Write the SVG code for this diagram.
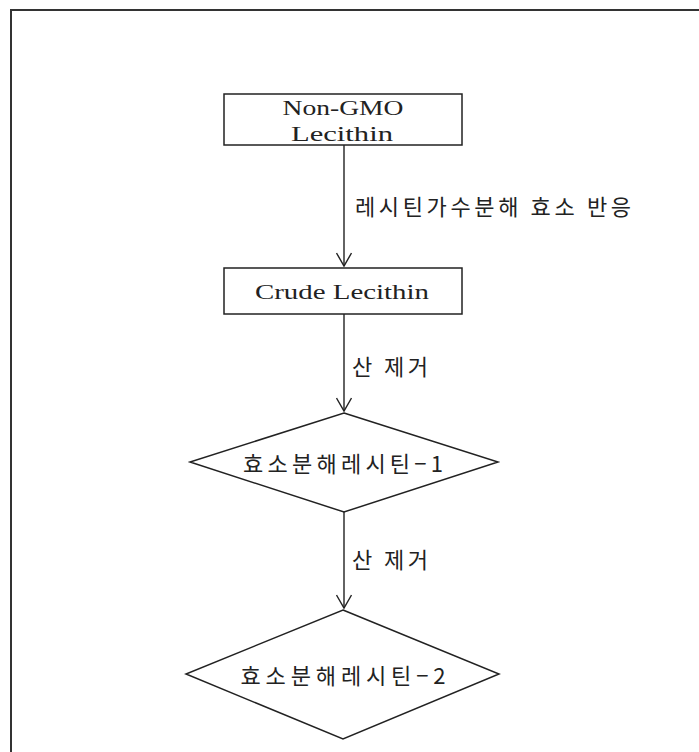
<svg xmlns="http://www.w3.org/2000/svg" width="699" height="752" viewBox="0 0 699 752">
  <defs>
    <marker id="arr" viewBox="0 0 16 16" refX="14" refY="8" markerWidth="16" markerHeight="16" markerUnits="userSpaceOnUse" orient="auto">
      <path d="M1,0.5 L14,8 L1,15.5" fill="none" stroke="#222" stroke-width="1.4"/>
    </marker>
    <style>
      .frame { fill: none; stroke: #333; stroke-width: 2; }
      .shape { fill: #fff; stroke: #222; stroke-width: 1.5; }
      .edge { fill: none; stroke: #222; stroke-width: 1.4; marker-end: url(#arr); }
      .lat { font-family: "Liberation Serif", "Noto Sans CJK KR", serif; font-size: 21px; fill: #222; text-anchor: middle; }
      .kr { font-family: "Noto Sans CJK KR", sans-serif; font-size: 22px; fill: #222; }
      .krc { text-anchor: middle; dominant-baseline: central; }
      .lbl { text-anchor: start; dominant-baseline: central; }
    </style>
  </defs>
  <rect width="699" height="752" fill="#fff"/>
  <path class="frame" d="M11,760 V10 H710"/>

  <g id="connectors">
    <line class="edge" x1="344" y1="145" x2="344" y2="266"/>
    <line class="edge" x1="344" y1="314" x2="344" y2="411"/>
    <line class="edge" x1="344" y1="512" x2="344" y2="608"/>
    <text class="kr lbl" x="355" y="205" textLength="276" lengthAdjust="spacing">레시틴가수분해 효소 반응</text>
    <text class="kr lbl" x="352" y="365" textLength="76" lengthAdjust="spacing">산 제거</text>
    <text class="kr lbl" x="352" y="558" textLength="76" lengthAdjust="spacing">산 제거</text>
  </g>

  <g id="node-nongmo">
    <rect class="shape" x="224" y="94" width="238" height="51"/>
    <text class="lat" x="343" y="115" textLength="121" lengthAdjust="spacingAndGlyphs">Non-GMO</text>
    <text class="lat" x="342" y="141" textLength="102" lengthAdjust="spacingAndGlyphs">Lecithin</text>
  </g>

  <g id="node-crude">
    <rect class="shape" x="224" y="268" width="238" height="46"/>
    <text class="lat" x="342" y="299" textLength="174" lengthAdjust="spacingAndGlyphs">Crude Lecithin</text>
  </g>

  <g id="node-enz1">
    <polygon class="shape" points="344,413 498,462 344,512 190,462"/>
    <text class="kr krc" x="343" y="462" textLength="200" lengthAdjust="spacing">효소분해레시틴−1</text>
  </g>

  <g id="node-enz2">
    <polygon class="shape" points="343,610 499,674 343,739 186,674"/>
    <text class="kr krc" x="343" y="674" textLength="205" lengthAdjust="spacing">효소분해레시틴−2</text>
  </g>
</svg>
